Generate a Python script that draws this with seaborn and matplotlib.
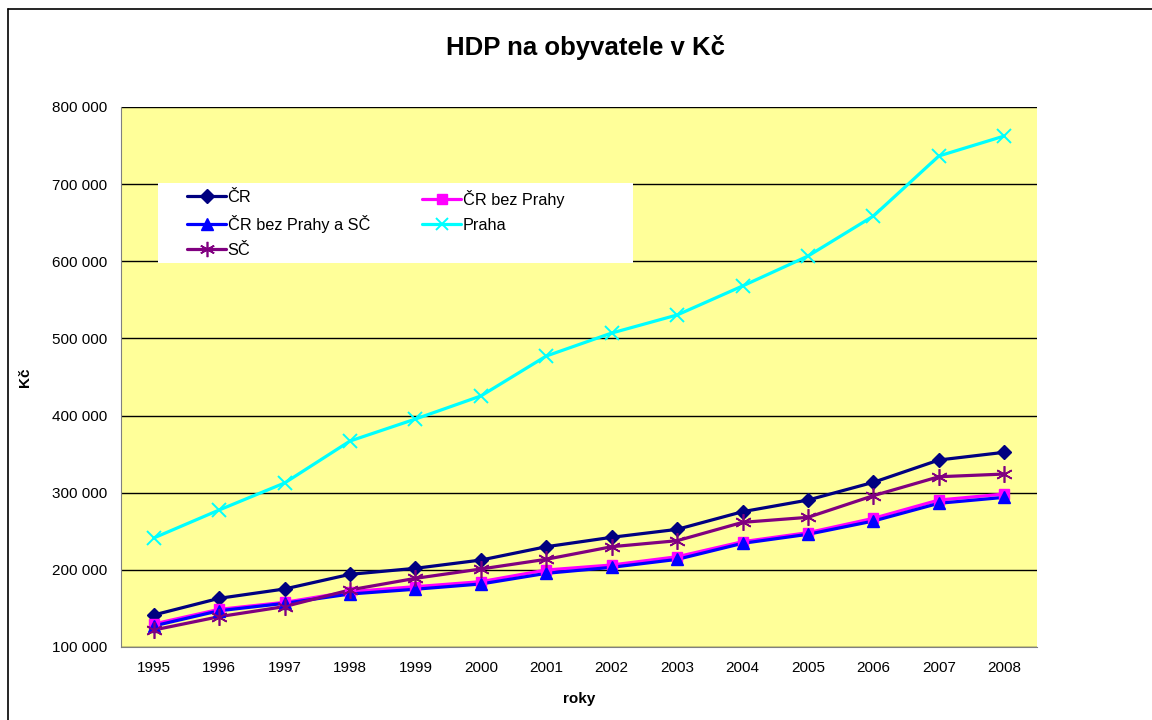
import matplotlib
matplotlib.use("Agg")
import matplotlib.pyplot as plt
import matplotlib.ticker as mticker
from matplotlib.lines import Line2D
from matplotlib.patches import Rectangle
import seaborn as sns
import pandas as pd

# data (Kč per inhabitant)
years = [1995, 1996, 1997, 1998, 1999, 2000, 2001, 2002, 2003, 2004, 2005, 2006, 2007, 2008]
cr = [141500, 163100, 175200, 194200, 202000, 212700, 230000, 242200, 252500, 275400, 290500, 313500, 342400, 352400]
cr_bez_prahy = [129800, 148800, 157900, 171700, 178200, 184700, 199800, 206300, 217000, 236500, 248200, 266800, 290500, 298300]
cr_bez_prahy_sc = [127300, 147000, 156600, 168700, 174900, 181700, 195500, 203300, 213600, 234400, 246100, 263300, 286300, 294000]
praha = [241300, 277600, 312600, 367000, 395500, 425400, 477200, 507000, 530400, 568000, 606800, 658700, 736500, 762400]
sc = [122000, 139300, 152400, 174000, 189000, 201100, 213700, 230000, 237800, 261600, 268100, 296200, 320700, 324200]

series_names = ["ČR", "ČR bez Prahy", "ČR bez Prahy a SČ", "Praha", "SČ"]
series_values = [cr, cr_bez_prahy, cr_bez_prahy_sc, praha, sc]
colors = ["#000080", "#FF00FF", "#0000FF", "#00FFFF", "#800080"]
markers = ["D", "s", "^", "x", "*"]

rows = []
for name, vals in zip(series_names, series_values):
    for i, v in enumerate(vals):
        rows.append({"pos": i, "rok": years[i], "hodnota": v, "rada": name})
df = pd.DataFrame(rows)

sns.set_style("white")
plt.rcParams["font.family"] = ["Liberation Sans", "DejaVu Sans"]
plt.rcParams["text.color"] = "black"
plt.rcParams["axes.labelcolor"] = "black"


def marker_kw(mk, col, legend=False):
    # marker styles close to the Excel ones
    if mk == "x":
        return dict(marker="x", markersize=9 if legend else 10, markeredgewidth=1.4, color=col)
    if mk == "*":
        return dict(marker=(6, 2, 0), markersize=11 if legend else 12, markeredgewidth=1.2, color=col)
    ms = {"D": 7, "s": 7.5, "^": 8.5}[mk]
    return dict(marker=mk, markersize=ms, color=col, markeredgecolor=col)


fig = plt.figure(figsize=(11.52, 7.2), dpi=100)
ax = fig.add_axes([121 / 1152, 1 - 647 / 720, (1037 - 121) / 1152, (647 - 107) / 720])
ax.set_facecolor("#FFFF99")

sns.lineplot(data=df, x="pos", y="hodnota", hue="rada", hue_order=series_names,
             palette=colors, linewidth=2.3, legend=False, ax=ax, sort=False)

# markers drawn on top of the lines
for name, col, mk in zip(series_names, colors, markers):
    sub = df[df["rada"] == name]
    ax.plot(sub["pos"], sub["hodnota"], linestyle="none", zorder=4, **marker_kw(mk, col))

ax.set_xlim(-0.5, len(years) - 0.5)
ax.set_ylim(100000, 800000)
ax.yaxis.set_major_locator(mticker.MultipleLocator(100000))
ax.yaxis.set_major_formatter(mticker.FuncFormatter(lambda v, p: f"{int(v):,}".replace(",", " ")))
ax.grid(axis="y", color="black", linewidth=1)
ax.set_axisbelow(True)

# category axis: tick marks between categories, labels at the centres
ax.set_xticks([i - 0.5 for i in range(len(years) + 1)])
ax.set_xticklabels([])
ax.set_xticks(range(len(years)), minor=True)
ax.set_xticklabels([str(y) for y in years], minor=True)
ax.tick_params(axis="x", which="major", direction="out", length=6, width=1, color="#444444")
ax.tick_params(axis="x", which="minor", length=0, pad=10, labelsize=11, labelcolor="black")
ax.tick_params(axis="y", direction="out", length=6, width=1, color="#444444", labelsize=11,
               pad=4, labelcolor="black")

for side in ("top", "right"):
    ax.spines[side].set_visible(False)
ax.spines["left"].set_color("#808080")
ax.spines["bottom"].set_color("#808080")

ax.set_xlabel("roky", fontsize=11, fontweight="bold", labelpad=12)
ax.set_ylabel("Kč", fontsize=11, fontweight="bold")
ax.yaxis.set_label_coords((32 - 121) / 916, 0.5)
fig.text(585 / 1152, 1 - 47 / 720, "HDP na obyvatele v Kč", ha="center", va="center",
         fontsize=18.5, fontweight="bold")

# white legend box
ax.add_patch(Rectangle(((158 - 121) / 916, (647 - 263) / 540), (633 - 158) / 916, 80 / 540,
                       transform=ax.transAxes, facecolor="white", edgecolor="none", zorder=5))

handles = {}
for name, col, mk in zip(series_names, colors, markers):
    handles[name] = Line2D([], [], linewidth=2.3, **marker_kw(mk, col, legend=True))

col1 = ["ČR", "ČR bez Prahy a SČ", "SČ"]
col2 = ["ČR bez Prahy", "Praha"]
leg_kw = dict(loc="upper left", frameon=False, fontsize=11.7, handlelength=2.4,
              handletextpad=0.1, borderaxespad=0, borderpad=0, labelspacing=0.62)
leg1 = ax.legend([handles[n] for n in col1], col1,
                 bbox_to_anchor=((187 - 121) / 916, (647 - 190) / 540), **leg_kw)
leg1.set_zorder(6)
ax.add_artist(leg1)
leg2 = ax.legend([handles[n] for n in col2], col2,
                 bbox_to_anchor=((422 - 121) / 916, (647 - 190) / 540), **leg_kw)
leg2.set_zorder(6)

# outer chart border (left and top visible)
fig.add_artist(Line2D([8 / 1152, 8 / 1152], [0, 1 - 9 / 720], transform=fig.transFigure,
                      color="black", linewidth=1.2))
fig.add_artist(Line2D([8 / 1152, 1], [1 - 9 / 720, 1 - 9 / 720], transform=fig.transFigure,
                      color="black", linewidth=1.2))

fig.savefig("out.png", dpi=100)
